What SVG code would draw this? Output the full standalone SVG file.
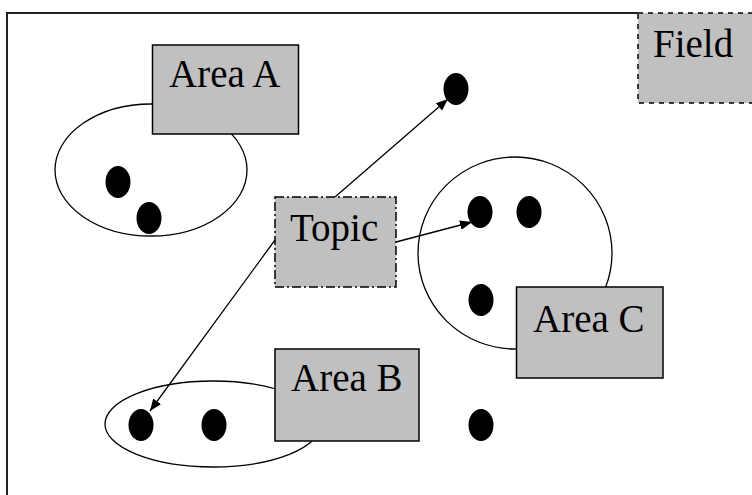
<svg xmlns="http://www.w3.org/2000/svg" width="752" height="495" viewBox="0 0 752 495">
<defs>
<style>
.box{fill:#c0c0c0;stroke:#000;stroke-width:1.5}
.dash{stroke-dasharray:5,5}
.dashdot{stroke-dasharray:9,3,2,3}
.ell{fill:none;stroke:#000;stroke-width:1.3}
.dot{fill:#000}
.lbl{font-family:"Liberation Serif","Times New Roman",serif;font-size:39px;fill:#000}
.conn{stroke:#000;stroke-width:1.3;fill:none;marker-end:url(#ah)}
</style>
<marker id="ah" viewBox="0 0 10 10" refX="10" refY="5" markerWidth="12" markerHeight="12" markerUnits="userSpaceOnUse" orient="auto">
<path d="M0,1 L10,5 L0,9 z" fill="#000"/>
</marker>
</defs>
<rect width="752" height="495" fill="#fff"/>
<g id="frame">
<path d="M7,495 L7,13 L638,13" fill="none" stroke="#222" stroke-width="2"/>
</g>
<g id="areaA-ellipse"><ellipse class="ell" cx="151" cy="170" rx="96" ry="66"/></g>
<g id="areaC-ellipse"><ellipse class="ell" cx="515" cy="253" rx="97" ry="96"/></g>
<g id="areaB-ellipse"><ellipse class="ell" cx="213" cy="424" rx="108" ry="43"/></g>
<g id="dots">
<ellipse class="dot" cx="118" cy="182" rx="12.5" ry="16"/>
<ellipse class="dot" cx="149" cy="218" rx="12.5" ry="16"/>
<ellipse class="dot" cx="456" cy="89" rx="12.5" ry="16"/>
<ellipse class="dot" cx="480" cy="212" rx="12.5" ry="16"/>
<ellipse class="dot" cx="529" cy="212" rx="12.5" ry="16"/>
<ellipse class="dot" cx="481" cy="300" rx="12.5" ry="16"/>
<ellipse class="dot" cx="141" cy="425" rx="12.5" ry="16"/>
<ellipse class="dot" cx="214" cy="425" rx="12.5" ry="16"/>
<ellipse class="dot" cx="481" cy="425" rx="12.5" ry="16"/>
</g>
<g id="field"><rect class="box dash" x="638" y="13" width="118" height="90"/><text class="lbl" x="653" y="57">Field</text></g>
<g id="areaA"><rect class="box" x="152.5" y="45" width="146" height="89"/><text class="lbl" x="169" y="87">Area A</text></g>
<g id="areaB"><rect class="box" x="275" y="349" width="144" height="92"/><text class="lbl" x="291" y="391">Area B</text></g>
<g id="areaC"><rect class="box" x="516.5" y="287" width="146.5" height="91"/><text class="lbl" x="533" y="332">Area C</text></g>
<g id="connectors">
<line class="conn" x1="335" y1="197" x2="448" y2="99"/>
<line class="conn" x1="396" y1="242" x2="472" y2="222"/>
<line class="conn" x1="275" y1="240" x2="150" y2="411"/>
</g>
<g id="topic"><rect class="box dashdot" x="275" y="197" width="121" height="90"/><text class="lbl" x="290" y="241">Topic</text></g>
</svg>
